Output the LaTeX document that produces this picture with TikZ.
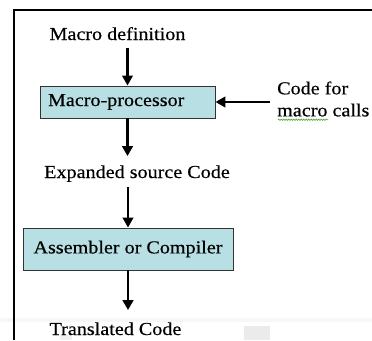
\documentclass[tikz,border=0pt]{standalone}
\usepackage{fontspec}
\setmainfont{Liberation Serif}[FakeStretch=1.1,FakeBold=0.4]
\usetikzlibrary{arrows.meta,decorations.pathmorphing}
\definecolor{boxfill}{RGB}{184,223,228}
\definecolor{spell}{RGB}{90,170,60}
\tikzset{
  lbl/.style={inner sep=0pt, font=\fontsize{18.3}{22}\selectfont},
  procbox/.style={draw=black!80, line width=0.9pt, fill=boxfill, inner sep=0pt,
    font=\fontsize{18.3}{22}\selectfont},
  arr/.style={line width=2.8pt, -{Triangle[width=10.5pt,length=10pt]}},
  frameline/.style={line width=1.4pt, black}
}
\begin{document}
\begin{tikzpicture}[x=1pt,y=-1pt]
\useasboundingbox (0,0) rectangle (372,340);
% faint scan artefacts
\fill[black!8] (244,326) rectangle (270,340);
\fill[black!3] (0,318) rectangle (372,322);
\fill[black!6] (60,334) rectangle (72,340);
% frame
\draw[frameline] (14,340) -- (14,10) -- (372,10);
% nodes
\node[lbl, anchor=base] (def) at (117.5,40) {Macro definition};
\node[procbox, minimum width=175pt, minimum height=32pt, text width=159pt, align=left] (mp) at (127.5,102) {Macro-processor};
\node[lbl, anchor=west, align=left] (cf) at (277,99) {Code for\\macro calls};
\node[lbl, anchor=base] (esc) at (137,178) {Expanded source Code};
\node[procbox, minimum width=210pt, minimum height=42pt] (asm) at (128,249) {Assembler or Compiler};
\node[lbl, anchor=base] (tc) at (115.5,335) {Translated Code};
% spell-check underline
\draw[spell, line width=0.7pt, decorate, decoration={snake, amplitude=0.7pt, segment length=2.5pt}]
  ([xshift=1pt,yshift=-3pt]cf.south west) -- ++(50,0);
% connectors
\draw[arr, shorten <=8pt] (mp.north |- def.south) -- (mp.north);
\draw[arr, shorten <=7pt] (mp.east -| cf.west) -- (mp.east);
\draw[arr, shorten >=9pt] (mp.south) -- (mp.south |- esc.north);
\draw[arr, shorten <=5pt] (asm.north |- esc.south) -- (asm.north);
\draw[arr, shorten >=12pt] (asm.south) -- (asm.south |- tc.north);
\end{tikzpicture}
\end{document}
